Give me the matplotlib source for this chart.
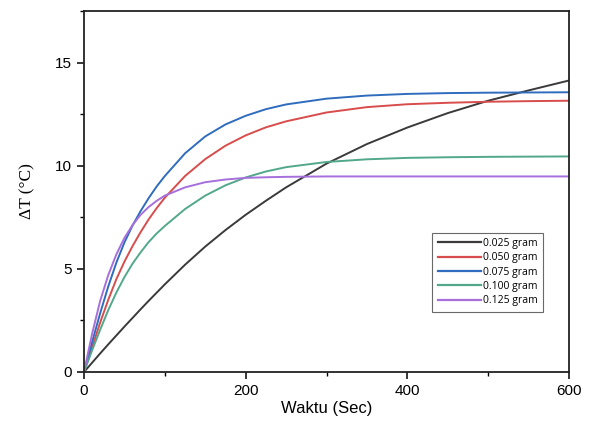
import numpy as np
import matplotlib.pyplot as plt
from matplotlib.ticker import MultipleLocator

# time (s) and temperature rise (degC)
t = [0, 10, 20, 30, 40, 50, 60, 70, 80, 90, 100, 125, 150, 175, 200, 225, 250,
     300, 350, 400, 450, 500, 550, 600]

dT_025 = [0, 0.45, 0.9, 1.34, 1.77, 2.2, 2.62, 3.04, 3.45, 3.85, 4.25, 5.2, 6.08, 6.88, 7.62, 8.3, 8.95,
          10.1, 11.05, 11.85, 12.55, 13.15, 13.65, 14.13]
dT_050 = [0, 1.2, 2.4, 3.5, 4.5, 5.35, 6.1, 6.78, 7.4, 7.95, 8.45, 9.5, 10.32, 10.97, 11.47, 11.86, 12.15,
          12.58, 12.84, 12.98, 13.05, 13.1, 13.13, 13.15]
dT_075 = [0, 1.45, 2.85, 4.15, 5.3, 6.28, 7.1, 7.8, 8.43, 9.0, 9.5, 10.6, 11.42, 12.0, 12.42, 12.74, 12.97,
          13.25, 13.4, 13.48, 13.52, 13.54, 13.55, 13.56]
dT_100 = [0, 1.05, 2.05, 3.0, 3.85, 4.6, 5.25, 5.8, 6.3, 6.72, 7.08, 7.9, 8.55, 9.05, 9.43, 9.72, 9.93,
          10.18, 10.31, 10.38, 10.41, 10.43, 10.44, 10.45]
dT_125 = [0, 1.85, 3.45, 4.7, 5.7, 6.5, 7.12, 7.62, 8.0, 8.3, 8.55, 8.95, 9.2, 9.33, 9.41, 9.44, 9.46,
          9.48, 9.48, 9.48, 9.48, 9.48, 9.48, 9.48]

labels = ["0.025 gram", "0.050 gram", "0.075 gram", "0.100 gram", "0.125 gram"]
series = [dT_025, dT_050, dT_075, dT_100, dT_125]
colors = ["#3a3a3a", "#d84c4c", "#2f6cbd", "#52a88a", "#a66fdb"]

fig = plt.figure(figsize=(5.9, 4.21), dpi=100)
ax = fig.add_axes([0.1424, 0.1164, 0.822, 0.8575])

for y, lab, c in zip(series, labels, colors):
    ax.plot(t, y, color=c, lw=1.4, label=lab)

ax.set_xlim(0, 600)
ax.set_ylim(0, 17.5)
ax.xaxis.set_major_locator(MultipleLocator(200))
ax.xaxis.set_minor_locator(MultipleLocator(100))
ax.yaxis.set_major_locator(MultipleLocator(5))
ax.yaxis.set_minor_locator(MultipleLocator(2.5))
ax.tick_params(which="major", length=5, width=1.1, labelsize=11)
ax.tick_params(which="minor", length=3, width=1.0)
for lbl in ax.get_xticklabels() + ax.get_yticklabels():
    lbl.set_fontfamily("Liberation Sans")
for s in ax.spines.values():
    s.set_linewidth(1.3)
    s.set_color("#222222")

ax.set_xlabel("Waktu (Sec)", fontsize=12, family="Liberation Sans", labelpad=2)
ax.set_ylabel("ΔT (°C)", fontsize=12.5, family="Liberation Serif", labelpad=14)

leg = ax.legend(loc="upper right", bbox_to_anchor=(0.958, 0.40),
                prop={"family": "Open Sans", "size": 7.5},
                handlelength=4.2, handletextpad=0.2, labelspacing=0.32,
                fancybox=False, edgecolor="#444444", borderpad=0.5)
leg.get_frame().set_linewidth(0.8)
for h in leg.get_lines():
    h.set_linewidth(1.6)

fig.savefig("out.png", dpi=100)
